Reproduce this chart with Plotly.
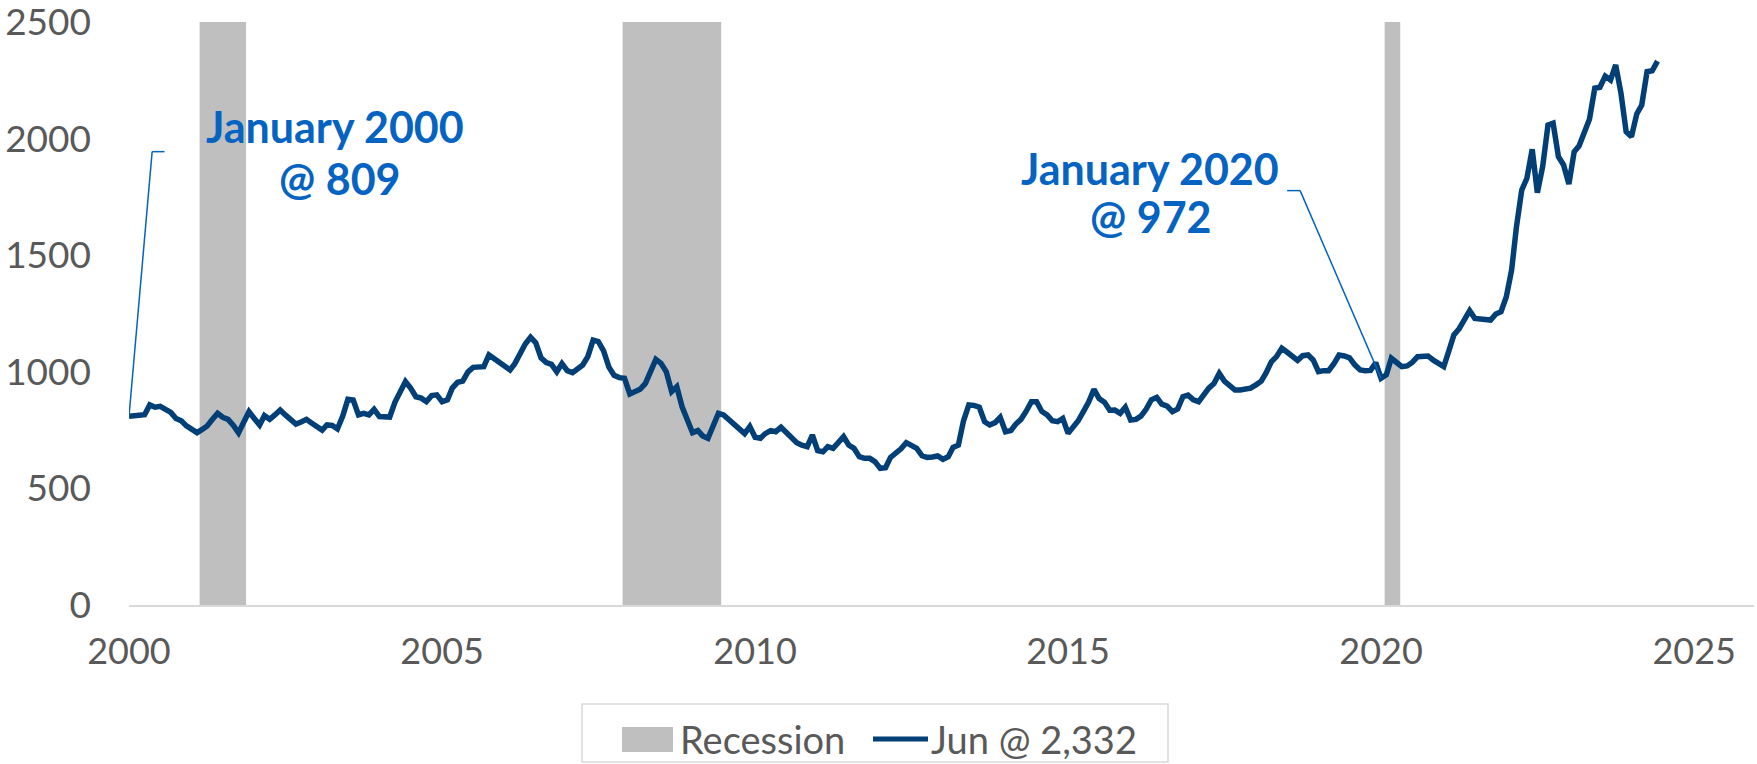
import pandas as pd
import plotly.graph_objects as go

# ---------------- data ----------------
start_month = "2000-01-01"
values = [
    # 2000
    809, 812, 815, 816, 858, 848, 852, 838, 826, 800, 790, 768,
    # 2001
    750, 739, 752, 768, 795, 822, 805, 796, 770, 738, 785, 829,
    # 2002
    800, 772, 812, 796, 815, 836, 815, 795, 776, 785, 796, 780,
    # 2003
    765, 750, 772, 770, 755, 810, 882, 879, 815, 822, 815, 839,
    # 2004
    808, 805, 806, 870, 915, 958, 930, 893, 887, 872, 898, 901,
    # 2005
    872, 880, 930, 955, 960, 1000, 1019, 1019, 1022, 1072, 1055, 1035,
    # 2006
    1024, 1008, 1035, 1080, 1119, 1148, 1125, 1060, 1040, 1032, 1000, 1035,
    # 2007
    1005, 996, 1010, 1029, 1065, 1136, 1130, 1090, 1020, 985, 975, 972,
    # 2008
    905, 915, 925, 950, 1000, 1053, 1036, 1000, 915, 936, 850, 790,
    # 2009
    739, 748, 725, 715, 770, 822, 815, 795, 779, 762, 735, 765,
    # 2010
    719, 715, 735, 748, 743, 762, 740, 711, 696, 685, 679, 729,
    # 2011
    662, 657, 679, 672, 700, 722, 686, 672, 636, 629, 629, 615,
    # 2012
    586, 589, 633, 650, 670, 696, 685, 672, 640, 633, 635, 639,
    # 2013
    625, 636, 676, 686, 790, 858, 856, 848, 786, 772, 782, 805,
    # 2014
    743, 748, 775, 796, 830, 872, 872, 830, 815, 790, 786, 800,
    # 2015
    736, 765, 790, 830, 870, 925, 885, 870, 835, 836, 822, 848,
    # 2016
    793, 796, 810, 840, 880, 890, 861, 853, 829, 840, 893, 900,
    # 2017
    880, 872, 900, 930, 950, 993, 960, 940, 922, 922, 925, 930,
    # 2018
    944, 960, 995, 1043, 1065, 1101, 1085, 1065, 1049, 1069, 1072, 1051,
    # 2019
    1001, 1005, 1005, 1035, 1072, 1068, 1060, 1030, 1008, 1005, 1006, 1039,
    # 2020
    972, 987, 1058, 1040, 1022, 1025, 1040, 1065, 1066, 1068, 1050, 1035,
    # 2021
    1022, 1093, 1158, 1185, 1220, 1262, 1229, 1225, 1225, 1222, 1248, 1258,
    # 2022
    1322, 1437, 1622, 1780, 1830, 1954, 1768, 1880, 2058, 2066, 1922, 1887,
    # 2023
    1805, 1944, 1968, 2023, 2083, 2216, 2220, 2268, 2251, 2316, 2194, 2030,
    # 2024
    2008, 2106, 2144, 2287, 2291, 2332,
]
recession_start = ["2001-02-16", "2007-11-20", "2020-01-22"]
recession_end = ["2001-11-14", "2009-06-17", "2020-04-22"]

x_tick_vals = ["2000-01-01", "2005-01-01", "2010-01-01", "2015-01-01", "2020-01-01", "2025-01-01"]
x_tick_text = ["2000", "2005", "2010", "2015", "2020", "2025"]
y_tick_vals = [0, 500, 1000, 1500, 2000, 2500]
y_tick_text = ["0", "500", "1000", "1500", "2000", "2500"]

series_name = "Jun @ 2,332"
recession_name = "Recession"
note1 = ["January 2000", "@ 809"]
note2 = ["January 2020", "@ 972"]

dates = pd.date_range(start_month, periods=len(values), freq="MS")

# ---------------- style ----------------
W, H = 1757, 764
ML, MR, MT, MB = 129, 3, 22, 159
PW, PH = W - ML - MR, H - MT - MB
NAVY = "#023F77"
BLUE = "#0563C1"
GREY = "#BFBFBF"
TXT = "#595959"
FONT = "Lato"


def fx(p):
    return (p - ML) / PW


def fy(p):
    return (H - MB - p) / PH


fig = go.Figure()

for s, e in zip(recession_start, recession_end):
    fig.add_shape(type="rect", xref="x", yref="y", x0=s, x1=e, y0=0, y1=2500,
                  fillcolor=GREY, line_width=0, layer="below")

fig.add_trace(go.Scatter(x=dates, y=values, mode="lines", name=series_name,
                         line=dict(color=NAVY, width=5.5), showlegend=False,
                         hoverinfo="skip"))

# leader lines
LL = dict(color=BLUE, width=1.5)
fig.add_shape(type="line", xref="x", yref="y", x0="2000-07-26", y0=1944, x1="2000-05-15", y1=1944, line=LL)
fig.add_shape(type="line", xref="x", yref="y", x0="2000-05-15", y0=1944, x1=dates[0], y1=values[0], line=LL)
fig.add_shape(type="line", xref="x", yref="y", x0="2018-07-02", y0=1777, x1="2018-09-16", y1=1777, line=LL)
fig.add_shape(type="line", xref="x", yref="y", x0="2018-09-16", y0=1777, x1=dates[240], y1=values[240], line=LL)

anns = []
for txt, xp, yp in [(note1[0], 335, 126), (note1[1], 340, 178),
                    (note2[0], 1150, 168), (note2[1], 1151, 217)]:
    anns.append(dict(text=txt, xref="paper", yref="paper", x=fx(xp), y=fy(yp),
                     xanchor="center", yanchor="middle", showarrow=False,
                     font=dict(family=FONT, size=43, color=BLUE, weight="bold")))

# manual legend
fig.add_shape(type="rect", xref="paper", yref="paper", x0=fx(582), x1=fx(1168), y0=fy(704), y1=fy(762),
              line=dict(color="#D9D9D9", width=1.5), fillcolor="white")
fig.add_shape(type="rect", xref="paper", yref="paper", x0=fx(622), x1=fx(673), y0=fy(727), y1=fy(752),
              line_width=0, fillcolor=GREY)
fig.add_shape(type="line", xref="paper", yref="paper", x0=fx(873), x1=fx(928), y0=fy(739), y1=fy(739),
              line=dict(color=NAVY, width=5))
anns.append(dict(text=recession_name, xref="paper", yref="paper", x=fx(678), y=fy(739),
                 xanchor="left", yanchor="middle", showarrow=False,
                 font=dict(family=FONT, size=38, color=TXT)))
anns.append(dict(text=series_name, xref="paper", yref="paper", x=fx(929), y=fy(739),
                 xanchor="left", yanchor="middle", showarrow=False,
                 font=dict(family=FONT, size=38, color=TXT)))

fig.update_layout(
    width=W, height=H,
    margin=dict(l=ML, r=MR, t=MT, b=MB, autoexpand=False),
    paper_bgcolor="white", plot_bgcolor="white",
    showlegend=False,
    hovermode=False,
    annotations=anns,
    xaxis=dict(type="date", range=["2000-01-01", "2025-12-16"],
               tickmode="array", tickvals=x_tick_vals, ticktext=x_tick_text,
               showgrid=False, zeroline=False, showline=True, linecolor="#D9D9D9", linewidth=2,
               ticks="", ticklabelstandoff=14, ticklabeloverflow="allow",
               tickfont=dict(family=FONT, size=36, color=TXT)),
    yaxis=dict(range=[0, 2500], tickmode="array", tickvals=y_tick_vals, ticktext=y_tick_text,
               showgrid=False, zeroline=False, showline=False, ticks="",
               ticklabelstandoff=37, ticklabeloverflow="allow",
               tickfont=dict(family=FONT, size=37, color=TXT)),
)

fig.write_html("out.html", config={"displayModeBar": False, "staticPlot": True},
               post_script="document.body.style.margin='0';document.body.style.overflow='hidden';")
